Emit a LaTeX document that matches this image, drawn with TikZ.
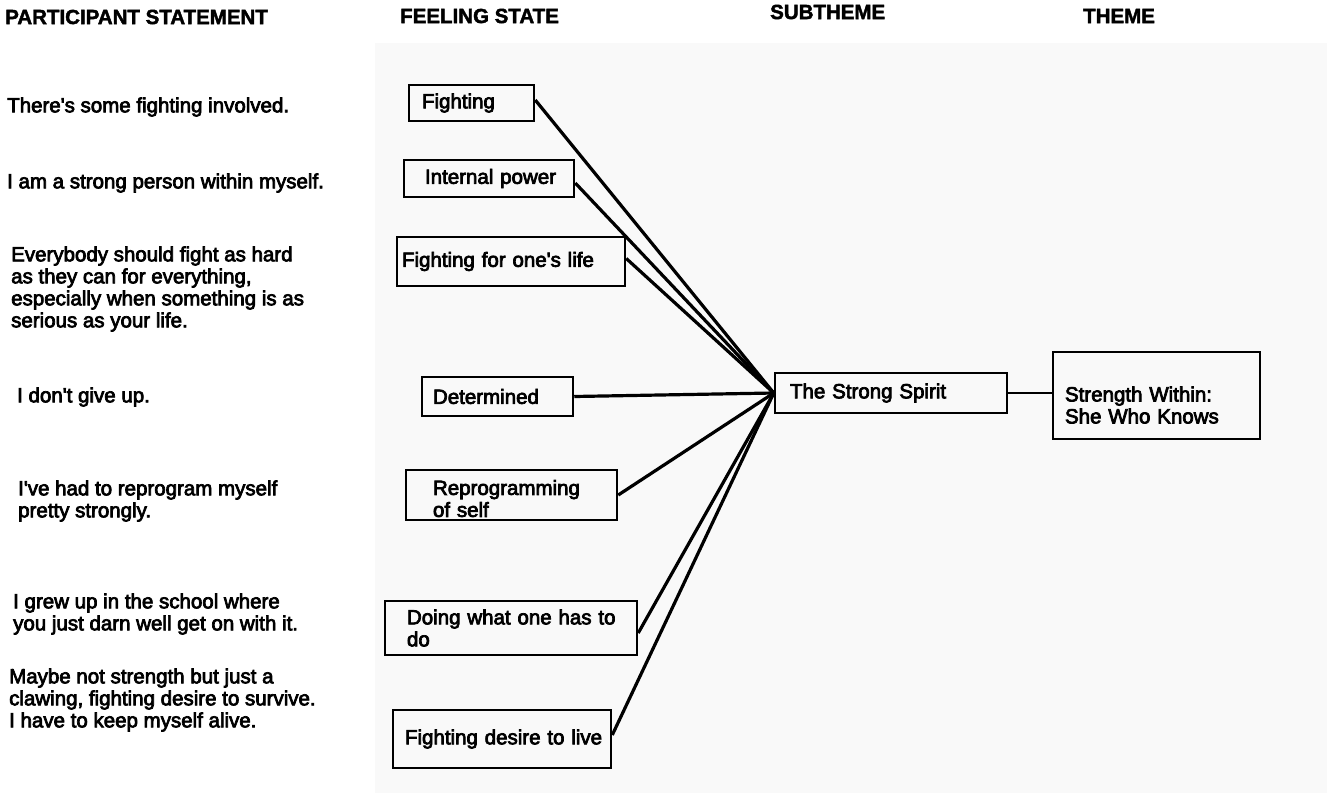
\documentclass[tikz,border=0pt]{standalone}
\usepackage{fontspec}
\setmainfont{Liberation Sans}
\newfontfamily\bodyf{Liberation Sans}[BoldFont={Liberation Sans}, BoldFeatures={FakeBold=3.5}]
\newfontfamily\headf{Liberation Sans}[BoldFont={Liberation Sans Bold}, BoldFeatures={FakeBold=2}]
\begin{document}
\begin{tikzpicture}[x=1pt,y=-1pt,
  body/.style={font=\bodyf\bfseries\fontsize{20.5}{22}\selectfont, inner sep=0pt, align=left, anchor=west},
  head/.style={font=\headf\bfseries\fontsize{20.5}{22}\selectfont, inner sep=0pt, anchor=west},
  box/.style={draw, line width=2.5pt, inner xsep=0pt, inner ysep=0pt, align=left,
    font=\bodyf\bfseries\fontsize{20.5}{22}\selectfont},
  pad/.style={execute at begin node={\leftskip=#1pt\relax}},
  link/.style={line width=3.2pt}]
\useasboundingbox (0,0) rectangle (1327,793);
\fill[white] (0,0) rectangle (1327,793);
\fill[black!2.5] (375,43) rectangle (1327,793);

% headers
\node[head] (h1) at (5,17) {PARTICIPANT STATEMENT};
\node[head] (h2) at (400,16) {FEELING STATE};
\node[head] (h3) at (770,12) {SUBTHEME};
\node[head] (h4) at (1083,16) {THEME};

% participant statements
\node[body] (s1) at (7,107) {There's some fighting involved.};
\node[body] (s2) at (7,183) {I am a strong person within myself.};
\node[body] (s3) at (11,289) {Everybody should fight as hard\\as they can for everything,\\especially when something is as\\serious as your life.};
\node[body] (s4) at (17,397) {I don't give up.};
\node[body] (s5) at (18,501) {I've had to reprogram myself\\pretty strongly.};
\node[body] (s6) at (13,614) {I grew up in the school where\\you just darn well get on with it.};
\node[body] (s7) at (9,700) {Maybe not strength but just a\\clawing, fighting desire to survive.\\I have to keep myself alive.};

% feeling states
\node[box, text width=125pt, minimum height=36pt, pad=13] (f1) at (471.5,103) {Fighting};
\node[box, text width=170pt, minimum height=37pt, pad=21] (f2) at (489,178.5) {Internal power};
\node[box, text width=228pt, minimum height=49pt, pad=5] (f3) at (511,261.5) {Fighting for one's life};
\node[box, text width=151pt, minimum height=39pt, pad=11] (f4) at (497.5,396.5) {Determined};
\node[box, text width=211pt, minimum height=50pt, pad=27] (f5) at (511.5,495) {\rule{0pt}{22pt}Reprogramming\\of self};
\node[box, text width=252pt, minimum height=54pt, pad=22] (f6) at (511,628) {Doing what one has to\\do};
\node[box, text width=218pt, minimum height=58pt, pad=12] (f7) at (502,739) {Fighting desire to live};

% subtheme and theme
\node[box, text width=232pt, minimum height=40pt, pad=15] (ss) at (891,393) {The Strong Spirit};
\node[box, text width=207pt, minimum height=87pt, pad=12] (th) at (1156.5,395.5) {\rule{0pt}{34pt}Strength Within:\\She Who Knows};

% connectors
\draw[link] ([yshift=3pt]f1.east) -- (ss.west);
\draw[link] ([yshift=-4.5pt]f2.east) -- (ss.west);
\draw[link] ([yshift=3pt]f3.east) -- (ss.west);
\draw[link] (f4.east) -- (ss.west);
\draw[link] (f5.east) -- (ss.west);
\draw[link] ([yshift=-5pt]f6.east) -- (ss.west);
\draw[link] ([yshift=4pt]f7.east) -- (ss.west);
\draw[line width=2.5pt] (ss.east) -- (th.west |- ss.east);
\end{tikzpicture}
\end{document}
